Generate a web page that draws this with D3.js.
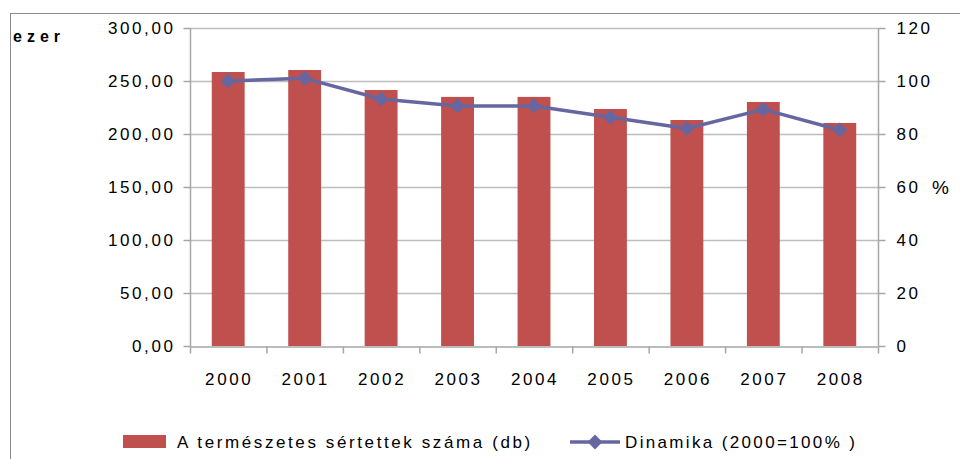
<!DOCTYPE html>
<meta charset='utf-8'>
<head>
  <style>
    body { margin: 0; background: #fff; }
    text { font-family: 'Liberation Sans', sans-serif; fill: #000; }
  </style>
</head>
<body>
<script src='https://d3js.org/d3.v7.min.js'></script>
<script>

var years = ['2000', '2001', '2002', '2003', '2004', '2005', '2006', '2007', '2008'];
var victims = [258.5, 260.4, 241.5, 235.0, 235.0, 223.6, 213.2, 230.2, 210.4];
var dynamics = [100, 101, 93.2, 90.6, 90.6, 86.3, 82.1, 89.3, 81.5];
var leftTicks = [0, 50, 100, 150, 200, 250, 300];
var rightTicks = [0, 20, 40, 60, 80, 100, 120];

var W = 960, H = 459;
var plotL = 190, plotR = 878, plotT = 28, plotB = 346;

var svg = d3.select('body').append('svg')
    .attr('width', W)
    .attr('height', H);

// chart frame (left and top edges visible)
svg.append('rect')
    .attr('x', 10.5).attr('y', 13.5)
    .attr('width', 1000).attr('height', 500)
    .style('fill', 'none').style('stroke', '#8c8c8c');

var x = d3.scaleBand().domain(years).range([plotL, plotR]);
var y = d3.scaleLinear().domain([0, 300]).range([plotB, plotT]);
var y2 = d3.scaleLinear().domain([0, 120]).range([plotB, plotT]);

// gridlines
svg.append('g').selectAll('line')
    .data(leftTicks.slice(1))
  .enter().append('line')
    .attr('x1', plotL).attr('x2', plotR)
    .attr('y1', d => Math.round(y(d)) + 0.5).attr('y2', d => Math.round(y(d)) + 0.5)
    .style('stroke', '#bdbdbd').style('stroke-width', 1.5);

// bars
var barW = x.bandwidth() * 0.43;
svg.append('g').selectAll('rect')
    .data(years)
  .enter().append('rect')
    .attr('x', d => x(d) + (x.bandwidth() - barW) / 2)
    .attr('y', (d, i) => y(victims[i]))
    .attr('width', barW)
    .attr('height', (d, i) => plotB - y(victims[i]))
    .style('fill', '#c0504d');

// axes
var yAxis = d3.axisLeft(y).tickValues(leftTicks).tickSize(7).tickPadding(8)
    .tickFormat(d => d3.format('.2f')(d).replace('.', ','));
var gy = svg.append('g').attr('transform', 'translate(' + (plotL + 0.5) + ',0)').call(yAxis);

var yAxis2 = d3.axisRight(y2).tickValues(rightTicks).tickSize(7).tickPadding(11);
var gy2 = svg.append('g').attr('transform', 'translate(' + (plotR + 0.5) + ',0)').call(yAxis2);

var xAxis = d3.axisBottom(x).tickSize(0).tickPadding(26);
var gx = svg.append('g').attr('transform', 'translate(0,' + (plotB + 0.5) + ')').call(xAxis);
gx.selectAll('.tick text').attr('dx', '1px');
// category boundary ticks
gx.selectAll('.bound')
    .data(years.concat(['end']))
  .enter().append('line')
    .attr('x1', (d, i) => plotL + i * x.bandwidth() + 0.5)
    .attr('x2', (d, i) => plotL + i * x.bandwidth() + 0.5)
    .attr('y1', 0).attr('y2', 7)
    .style('stroke', '#a6a6a6').style('stroke-width', 1.5);

[gy, gy2, gx].forEach(g => {
  g.select('.domain').style('stroke', '#a6a6a6').style('stroke-width', 1.5);
  g.selectAll('.tick line').style('stroke', '#a6a6a6').style('stroke-width', 1.5);
  g.selectAll('.tick text')
      .style('font-family', "'Liberation Sans', sans-serif")
      .style('font-size', '17px')
      .style('letter-spacing', '2.6px');
});
gy.select('.domain').attr('d', 'M0,' + plotB + 'V' + plotT);
gy2.select('.domain').attr('d', 'M0,' + plotB + 'V' + plotT);

// line series
var cx = d => x(d) + x.bandwidth() / 2;
var line = d3.line().x(d => cx(d)).y((d, i) => y2(dynamics[i]));
svg.append('path')
    .datum(years)
    .attr('d', line)
    .style('fill', 'none').style('stroke', '#6667a0').style('stroke-width', 3.5)
    .style('stroke-linejoin', 'round');

var diamond = d3.symbol().type(d3.symbolDiamond2).size(140);
svg.append('g').selectAll('path')
    .data(years)
  .enter().append('path')
    .attr('d', diamond)
    .attr('transform', (d, i) => 'translate(' + cx(d) + ',' + y2(dynamics[i]) + ')')
    .style('fill', '#6667a0');

// axis titles
svg.append('text')
    .attr('x', 13).attr('y', 42)
    .style('font-size', '16px').style('font-weight', 'bold').style('letter-spacing', '5px')
    .text('ezer');
svg.append('text')
    .attr('x', 932).attr('y', 194)
    .style('font-size', '19px')
    .text('%');

// legend
svg.append('rect')
    .attr('x', 123).attr('y', 435).attr('width', 43).attr('height', 13)
    .style('fill', '#c0504d');
svg.append('text')
    .attr('x', 177).attr('y', 448)
    .style('font-size', '17px').style('letter-spacing', '2.6px')
    .text('A természetes sértettek száma (db)');

svg.append('line')
    .attr('x1', 570).attr('x2', 620).attr('y1', 442).attr('y2', 442)
    .style('stroke', '#6667a0').style('stroke-width', 3.5);
svg.append('path')
    .attr('d', diamond)
    .attr('transform', 'translate(595,442)')
    .style('fill', '#6667a0');
svg.append('text')
    .attr('x', 625).attr('y', 448)
    .style('font-size', '17px').style('letter-spacing', '2.35px')
    .text('Dinamika (2000=100% )');

</script>
</body>
